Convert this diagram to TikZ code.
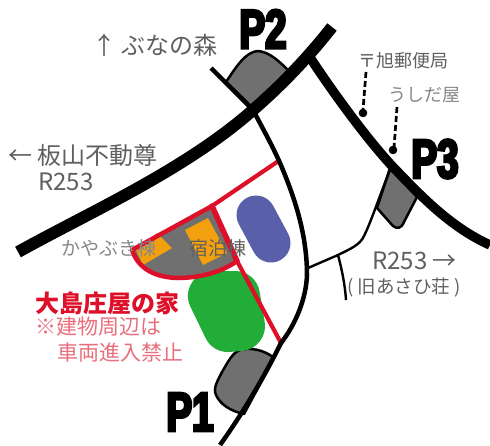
\documentclass[tikz,border=0pt]{standalone}
\usepackage{fontspec}
\newfontfamily\jp{Noto Sans CJK JP}
\newfontfamily\imp[FakeBold=5,FakeStretch=0.7]{Liberation Sans Bold}
\definecolor{txt}{RGB}{95,95,95}
\definecolor{lbl}{RGB}{135,135,135}
\definecolor{rd}{RGB}{222,15,40}
\definecolor{pink}{RGB}{232,110,125}
\definecolor{park}{RGB}{112,112,112}
\definecolor{org}{RGB}{243,160,15}
\definecolor{blu}{RGB}{90,95,170}
\definecolor{grn}{RGB}{34,172,56}
\tikzset{
 jt/.style={font=\jp\fontsize{#1}{#1}\selectfont,inner sep=0pt,anchor=west,text=txt},
 pk/.style={font=\imp\fontsize{55}{55}\selectfont,inner sep=0pt,text=black},
 parking/.style={fill=park,draw=black,line width=2.5pt,line join=round},
 redl/.style={draw=rd,line join=round,line cap=round},
}
\begin{document}
\begin{tikzpicture}[x=1pt,y=-1pt]
\useasboundingbox (0,0) rectangle (490,445);
% parking
\draw[parking] (226,82) .. controls (238,64) and (246,52) .. (258,51) .. controls (270,52) and (280,62) .. (292,74) -- (253,108) -- cycle;
\draw[parking] (390,168) -- (417,197) -- (404,222) .. controls (401,229) and (397,229) .. (393,226) -- (377,208) -- cycle;
\draw[parking] (274,358) .. controls (265,350) and (250,347) .. (240,350) .. controls (232,353) and (228,362) .. (222,372) .. controls (217,382) and (213,388) .. (216,395) .. controls (220,404) and (230,411) .. (244,414) -- cycle;
% coloured areas
\fill[blu,draw=blu,line width=39pt,line cap=round] (256,215) -- (271,243);
\fill[grn,draw=grn,line width=50pt,line join=round] (213,296) -- (235,296) -- (240,326) -- (228,327) -- cycle;
% estate
\fill[park] (212,207) -- (132,250) .. controls (137,265) and (150,277) .. (177,278) .. controls (200,278) and (222,272) .. (237,262) -- cycle;
\fill[org] (157,233) -- (172,248) -- (143,265) -- (136,250) -- cycle;
\fill[org] (208,218) -- (227,253) -- (203,265) -- (185,230) -- cycle;
\draw[redl,line width=4.5pt] (212,206) -- (132,250) .. controls (137,265) and (150,277) .. (177,278) .. controls (200,278) and (222,272) .. (237,261);
\draw[redl,line width=4.2pt] (277,162) -- (212,206);
\draw[redl,line width=5.5pt] (212,206) -- (237,261);
\draw[redl,line width=4.2pt] (237,261) -- (281,343);
% roads
\draw[black,line width=4.5pt,line join=round] (211,68) -- (253,110) .. controls (262,127) and (272,145) .. (280,163) .. controls (295,198) and (307,235) .. (307,275) .. controls (306,300) and (295,325) .. (281,343) .. controls (265,375) and (245,410) .. (220,445);
\draw[black,line width=2.4pt] (308,268) -- (338,255) .. controls (350,249) and (360,245) .. (364,236) .. controls (371,222) and (378,200) .. (390,170);
\draw[black,line width=2.4pt] (338,255) .. controls (342,270) and (345,285) .. (346,300);
\draw[black,line width=12pt] (18,252) .. controls (90,212) and (185,170) .. (253,110) .. controls (285,82) and (310,55) .. (332,27);
\draw[black,line width=9.5pt] (309,56) .. controls (330,88) and (365,137) .. (393,167) .. controls (420,195) and (450,227) .. (490,245);
% dashed leaders
\fill[black] (363,113) circle (4.3);
\fill[black] (393,150) circle (4.3);
\draw[black,line width=2.7pt,dash pattern=on 6pt off 3pt] (366,72) -- (363,110);
\draw[black,line width=2.7pt,dash pattern=on 6pt off 3pt] (397,107) -- (394,148);
% labels
\node[jt=24] (forest) at (92,45) {↑ ぶなの森};
\node[jt=24] (fudo) at (8,155) {← 板山不動尊};
\node[jt=24] (rleft) at (38,182) {R253};
\node[jt=18] (post) at (358,61) {〒旭郵便局};
\node[jt=18,text=lbl] (ushi) at (388,95) {うしだ屋};
\node[jt=24] (rright) at (372,261) {R253 →};
\node[jt=18.5] (asahi) at (347,288) {( 旧あさひ荘 )};
\node[jt=19,text=lbl] (kaya) at (61,248) {かやぶき棟};
\node[jt=19,text=txt] (shuku) at (189,248) {宿泊棟};
\node[jt=24,text=rd,font=\jp\bfseries\fontsize{24}{24}\selectfont] (oshima) at (35,303) {大島庄屋の家};
\node[jt=21,text=pink] (note1) at (35,327) {※建物周辺は};
\node[jt=21,text=pink] (note2) at (57,353) {車両進入禁止};
\node[pk] (p1) at (190,412) {P1};
\node[pk] (p2) at (263,29) {P2};
\node[pk] (p3) at (435,159) {P3};
\end{tikzpicture}
\end{document}
